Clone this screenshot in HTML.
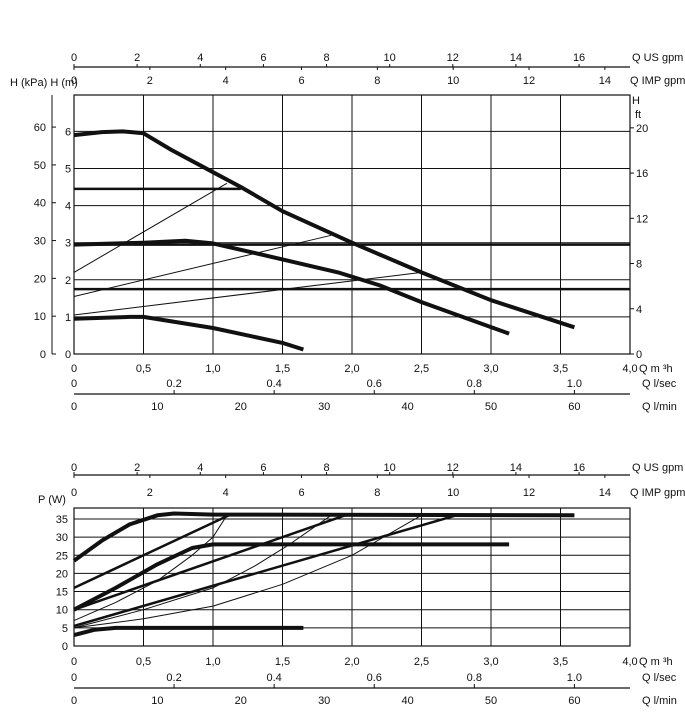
<!DOCTYPE html>
<html><head><meta charset="utf-8"><style>
body{margin:0;background:#fff;}
svg text{font-family:"Liberation Sans",sans-serif;font-size:11px;fill:#111;}
</style></head><body>
<svg id="c" width="685" height="723" viewBox="0 0 685 723" xmlns="http://www.w3.org/2000/svg"></svg>
<script>
// ---- data ----
const qTicks=[0,0.5,1.0,1.5,2.0,2.5,3.0,3.5,4.0];
const qTickLabels=["0","0,5","1,0","1,5","2,0","2,5","3,0","3,5","4,0"];
const usGpmTicks=[0,2,4,6,8,10,12,14,16];
const impGpmTicks=[0,2,4,6,8,10,12,14];
const lsecTicks=["0","0.2","0.4","0.6","0.8","1.0"];
const lminTicks=[0,10,20,30,40,50,60];
const hmTicks=[0,1,2,3,4,5,6];
const kpaTicks=[0,10,20,30,40,50,60];
const ftTicks=[0,4,8,12,16,20];
const pTicks=[0,5,10,15,20,25,30,35];
// head curves [Q m3/h, H m]
const headMax=[[0,5.9],[0.2,5.98],[0.35,6.0],[0.5,5.95],[0.7,5.5],[1.0,4.9],[1.2,4.5],[1.5,3.85],[2.0,3.0],[2.5,2.2],[3.0,1.45],[3.6,0.72]];
const headMid=[[0,2.95],[0.5,3.0],[0.8,3.05],[1.0,2.98],[1.5,2.55],[1.9,2.2],[2.2,1.85],[2.5,1.4],[3.13,0.55]];
const headLow=[[0,0.95],[0.4,1.0],[0.5,1.0],[1.0,0.7],[1.5,0.3],[1.65,0.12]];
const headConst1=[[0,4.45],[1.2,4.45]];
const headConst2=[[0,2.95],[4.0,2.95]];
const headConst3=[[0,1.75],[4.0,1.75]];
const headThin1=[[0,2.2],[1.1,4.6]];
const headThin2=[[0,1.55],[1.85,3.2]];
const headThin3=[[0,1.05],[2.5,2.2]];
// power curves [Q m3/h, P W]
const powMax=[[0,23.5],[0.2,29],[0.4,33.5],[0.6,36],[0.72,36.5],[1.0,36.2],[3.6,36]];
const powMid=[[0,10],[0.3,16],[0.6,22.5],[0.85,27],[1.0,28],[3.13,28]];
const powLow=[[0,3],[0.15,4.5],[0.3,5],[1.65,5]];
const powLin1=[[0,16],[1.13,36.3]];
const powLin2=[[0,10],[1.95,36]];
const powLin3=[[0,5.5],[2.75,36]];
const powThin1=[[0,7],[0.3,12],[0.6,18],[0.85,25],[1.0,30],[1.1,36]];
const powThin2=[[0,5],[0.5,10],[1.0,16],[1.3,22],[1.55,28],[1.85,36]];
const powThin3=[[0,5],[0.5,7.5],[1.0,11],[1.5,17],[2.0,25],[2.5,36]];

const svg=document.getElementById('c');
const NS='http://www.w3.org/2000/svg';
function el(t,a,p){const e=document.createElementNS(NS,t);for(const k in a)e.setAttribute(k,a[k]);(p||svg).appendChild(e);return e;}
function txt(x,y,s,anchor,name){const e=el('text',{x:x,y:y,'text-anchor':anchor||'middle'});e.textContent=s;

return e;}
const X0=74,X1=630;
const sx=q=>X0+q*(X1-X0)/4;
function line(x1,y1,x2,y2,w,name){const e=el('line',{x1:x1,y1:y1,x2:x2,y2:y2,stroke:'#111','stroke-width':w});

return e;}
function curve(pts,sy,w,name){
 let d='';pts.forEach((p,i)=>{d+=(i?'L':'M')+sx(p[0]).toFixed(1)+','+sy(p[1]).toFixed(1);});
 const e=el('path',{d:d,fill:'none',stroke:'#111','stroke-width':w,'stroke-linejoin':'round','stroke-linecap':'butt'});
 
 
}
function flowAxes(topLine,usY,impY,bot,m3Y,lsY,lineY,lmY){
 line(X0,topLine,X1,topLine,1.2,'us-gpm-axis-line');
 usGpmTicks.forEach(v=>{const x=sx(v*0.2271);txt(x,usY,String(v),'middle','us-gpm-tick');line(x,topLine-3,x,topLine,1,'us-gpm-tick-mark');});
 impGpmTicks.forEach(v=>{const x=sx(v*0.2728);txt(x,impY,String(v),'middle','imp-gpm-tick');line(x,topLine,x,topLine+3,1,'imp-gpm-tick-mark');});
 txt(632,usY,'Q US gpm','start','us-gpm-label');txt(630,impY,'Q IMP gpm','start','imp-gpm-label');
 qTicks.forEach((v,i)=>txt(sx(v),m3Y,qTickLabels[i],'middle','q-m3h-tick'));
 txt(639,m3Y,'Q m ³h','start','q-m3h-label');
 lsecTicks.forEach((s,i)=>txt(sx(i*0.2*3.6),lsY,s,'middle','q-lsec-tick'));
 line(X0,lineY,X1,lineY,1.2,'l-axis-line');
 [0.2,0.4,0.6,0.8,1.0].forEach(v=>line(sx(v*3.6),lineY-4,sx(v*3.6),lineY,1,'l-sec-tick-mark'));
 txt(642,lsY,'Q l/sec','start','q-lsec-label');
 lminTicks.forEach(v=>txt(sx(v*0.06),lmY,String(v),'middle','q-lmin-tick'));
 txt(642,lmY,'Q l/min','start','q-lmin-label');
}
// ---- head chart ----
const HY0=354,HPM=37.1;const syH=h=>HY0-h*HPM;const HT=95;
flowAxes(67,61,84,HY0,372,387,394,410);
el('rect',{x:X0,y:HT,width:X1-X0,height:HY0-HT,fill:'none',stroke:'#111','stroke-width':1.2});
qTicks.forEach(v=>line(sx(v),HT,sx(v),HY0,1,'head-v-grid'));
hmTicks.forEach(v=>{line(X0,syH(v),X1,syH(v),1,'head-h-grid');txt(68,syH(v)+4,String(v),'middle','head-m-tick');});
line(52,HT,52,HY0,1,'kpa-axis-line');
kpaTicks.forEach(v=>{const y=syH(v/9.81);line(52,y,56,y,1,'kpa-tick-mark');txt(46,y+4,String(v),'end','kpa-tick');});
ftTicks.forEach(v=>{const y=syH(v*0.3048);line(X1,y,X1+4,y,1,'ft-tick-mark');txt(636,y+4,String(v),'start','ft-tick');});
txt(636,104,'H','middle','ft-axis-title');txt(638,118,'ft','middle','ft-axis-unit');
txt(10,86,'H (kPa)  H (m)','start','head-axis-title').setAttribute('font-size','8.5');
curve(headThin1,syH,1,'system-curve-1');curve(headThin2,syH,1,'system-curve-2');curve(headThin3,syH,1,'system-curve-3');
curve(headConst1,syH,2.5,'head-constant-high');curve(headConst2,syH,2.5,'head-constant-mid');curve(headConst3,syH,2.5,'head-constant-low');
curve(headMax,syH,4,'head-curve-max');curve(headMid,syH,4,'head-curve-mid');curve(headLow,syH,4,'head-curve-min');
// ---- power chart ----
const PY0=646,PPW=3.63;const syP=p=>PY0-p*PPW;const PT=508;
flowAxes(475,471,496,PY0,665,681,688,704);
el('rect',{x:X0,y:PT,width:X1-X0,height:PY0-PT,fill:'none',stroke:'#111','stroke-width':1.2});
qTicks.forEach(v=>line(sx(v),PT,sx(v),PY0,1,'power-v-grid'));
pTicks.forEach(v=>{line(X0,syP(v),X1,syP(v),1,'power-h-grid');txt(68,syP(v)+4,String(v),'end','power-tick');});
txt(38,503,'P (W)','start','power-axis-title').setAttribute('font-size','9.5');
curve(powThin1,syP,1,'power-thin-1');curve(powThin2,syP,1,'power-thin-2');curve(powThin3,syP,1,'power-thin-3');
curve(powLin1,syP,2.5,'power-line-1');curve(powLin2,syP,2.5,'power-line-2');curve(powLin3,syP,2.5,'power-line-3');
curve(powMax,syP,4,'power-curve-max');curve(powMid,syP,4,'power-curve-mid');curve(powLow,syP,4,'power-curve-min');
</script>
</body></html>
